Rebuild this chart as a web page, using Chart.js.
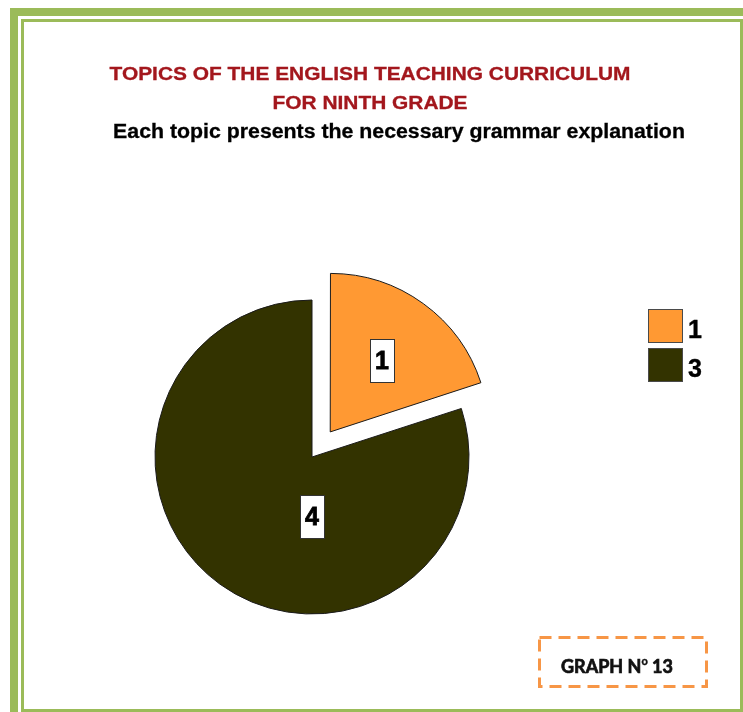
<!DOCTYPE html>
<html>
<head>
<meta charset="utf-8">
<script src="https://cdn.jsdelivr.net/npm/chart.js@4.4.1/dist/chart.umd.min.js"></script>
<style>
  html, body { margin: 0; padding: 0; background: #fff; }
  body { width: 743px; height: 712px; position: relative; overflow: hidden; font-family: "Liberation Sans", Arial, sans-serif; }
  .frame-outer { position: absolute; left: 10px; top: 8px; width: 760px; height: 730px; border: 8px solid #9bbb59; }
  .frame-inner { position: absolute; left: 21px; top: 19px; width: 722px; height: 693px; border: 3px solid #9bbb59; box-sizing: border-box; }
  #chart { position: absolute; left: 0; top: 0; }
  .t { position: absolute; text-align: center; font-weight: bold; white-space: nowrap; transform-origin: 50% 50%; -webkit-text-stroke: 0.3px currentColor; }
  .t1 { left: 70px; width: 600px; top: 63px; font-size: 19px; line-height: 22px; color: #a3171d; transform: scaleX(1.1); }
  .t2 { left: 70px; width: 600px; top: 92px; font-size: 19px; line-height: 22px; color: #a3171d; transform: scaleX(1.1); }
  .t3 { left: 99px; width: 600px; top: 119px; font-size: 20px; line-height: 24px; color: #000; transform: scaleX(1.065); }
  #legend { position: absolute; left: 648px; top: 309px; }
  #legend .item { height: 39px; position: relative; }
  #legend .box { position: absolute; left: 0; top: 0; width: 35px; height: 34px; box-sizing: border-box; border: 1px solid #4a4a4a; }
  #legend .lbl { position: absolute; left: 40px; top: 6px; font-size: 25px; line-height: 28px; font-weight: bold; color: #000; -webkit-text-stroke: 0.4px #000; }
  .graph-box { position: absolute; left: 538px; top: 636px; width: 170px; height: 52px; }
  .graph-txt { position: absolute; left: 561px; top: 652px; font-family: Lato, "Open Sans", sans-serif; font-weight: 700; font-size: 18px; line-height: 20px; color: #111; white-space: nowrap; -webkit-text-stroke: 0.7px #111; }
  .graph-txt sup { font-size: 11px; position: relative; top: -1px; -webkit-text-stroke: 0.4px #111; }
</style>
</head>
<body>
<div class="frame-outer"></div>
<div class="frame-inner"></div>
<canvas id="chart" width="743" height="712"></canvas>
<div class="t t1">TOPICS OF THE ENGLISH TEACHING CURRICULUM</div>
<div class="t t2">FOR NINTH GRADE</div>
<div class="t t3">Each topic presents the necessary grammar explanation</div>
<div id="legend"></div>
<svg class="graph-box" width="170" height="52"><rect x="1.5" y="1.5" width="167" height="49" fill="none" stroke="#f79646" stroke-width="3" stroke-dasharray="12 7"/></svg>
<div class="graph-txt">GRAPH N<sup>o</sup> 13</div>
<script>
  // legend labels and slice values
  var categories = ["1", "3"];
  var values = [1, 4];
  var COLORS = ["#ff9933", "#333300"];
  var OFFSETS = [124, 0];          // chart.js translates by offset/4
  var LABEL_FRAC = [0.56, 0.38];   // distance of value label from centre, share of radius
  var LABEL_ANGLE = [null, 180];   // null = slice middle, else degrees clockwise from top

  // html legend
  var leg = document.getElementById("legend");
  var html = "";
  for (var i = 0; i < categories.length; i++) {
    html += '<div class="item"><div class="box" style="background:' + COLORS[i] + '"></div><div class="lbl">' + categories[i] + '</div></div>';
  }
  leg.innerHTML = html;

  var valueLabels = {
    id: "valueLabels",
    afterDatasetsDraw: function (chart) {
      var ctx = chart.ctx;
      var meta = chart.getDatasetMeta(0);
      ctx.save();
      ctx.font = "bold 25px 'Liberation Sans', Arial, sans-serif";
      ctx.textAlign = "center";
      ctx.textBaseline = "middle";
      meta.data.forEach(function (arc, i) {
        var p = arc.getProps(["x", "y", "startAngle", "endAngle", "outerRadius"], true);
        var mid = (p.startAngle + p.endAngle) / 2;
        var sh = (OFFSETS[i] || 0) / 4;
        var cx = p.x + Math.cos(mid) * sh, cy = p.y + Math.sin(mid) * sh;
        var a = LABEL_ANGLE[i] == null ? mid : (LABEL_ANGLE[i] - 90) * Math.PI / 180;
        var lx = cx + Math.cos(a) * p.outerRadius * LABEL_FRAC[i];
        var ly = cy + Math.sin(a) * p.outerRadius * LABEL_FRAC[i];
        var txt = String(values[i]);
        var w = ctx.measureText(txt).width + 10, h = 43;
        ctx.fillStyle = "#fff";
        ctx.fillRect(Math.round(lx - w / 2) + 0.5, Math.round(ly - h / 2) + 0.5, Math.round(w), h);
        ctx.strokeStyle = "#333";
        ctx.lineWidth = 1;
        ctx.strokeRect(Math.round(lx - w / 2) + 0.5, Math.round(ly - h / 2) + 0.5, Math.round(w), h);
        ctx.fillStyle = "#000";
        ctx.strokeStyle = "#000";
        ctx.lineWidth = 0.8;
        ctx.fillText(txt, lx, ly + 1);
        ctx.strokeText(txt, lx, ly + 1);
      });
      ctx.restore();
    }
  };

  new Chart(document.getElementById("chart"), {
    type: "pie",
    data: {
      labels: categories,
      datasets: [{
        data: values,
        backgroundColor: COLORS,
        borderColor: "#1a1a1a",
        borderWidth: 1,
        offset: OFFSETS,
        clip: false
      }]
    },
    options: {
      responsive: false,
      animation: false,
      radius: 157,
      layout: { padding: { left: 0, right: 119, top: 300, bottom: 98 } },
      plugins: { legend: { display: false }, tooltip: { enabled: false }, title: { display: false } }
    },
    plugins: [valueLabels]
  });
</script>
</body>
</html>
